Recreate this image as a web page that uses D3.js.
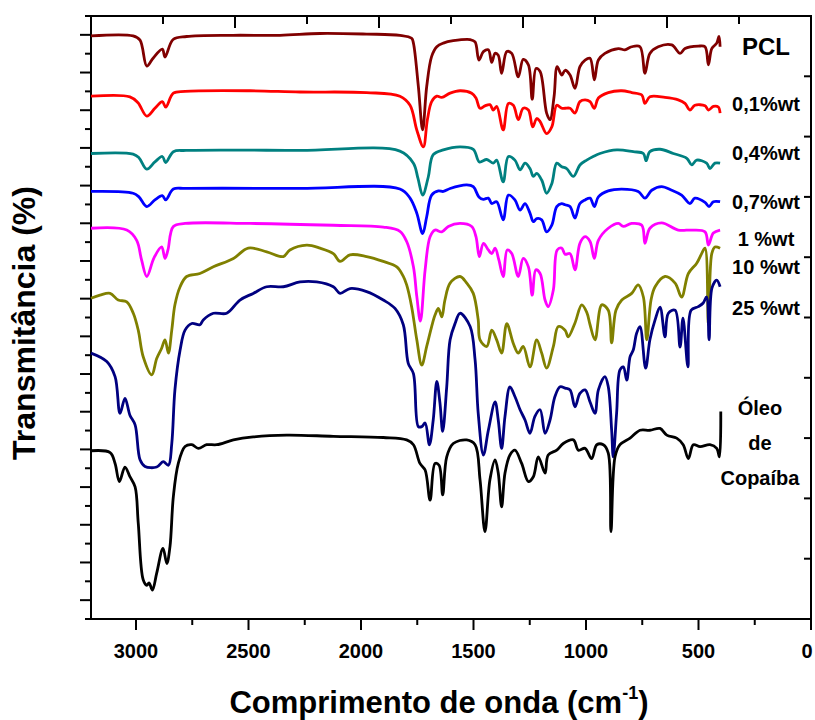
<!DOCTYPE html>
<meta charset="utf-8">
<script src="https://d3js.org/d3.v7.min.js"></script>
<style>
  body { margin: 0; background: #fff; }
  text { font-family: "Liberation Sans", Arial, sans-serif; font-weight: bold; fill: #000; }
</style>
<div id="ftir"></div>
<script>
// spectra: [wavenumber (cm-1), transmittance (a.u., offset)]
var pcl = [[3200,96.7],[3013,96.7],[2982,96.0],[2952,91.7],[2924,93.0],[2883,94.5],[2871,93.2],[2835,96.1],[2775,96.6],[2569,96.8],[2360,96.8],[2182,97.1],[1975,97.0],[1827,96.8],[1775,96.3],[1767,95.5],[1745,88.3],[1726,81.1],[1708,88.3],[1686,93.3],[1663,94.9],[1634,95.5],[1590,95.9],[1515,96.1],[1493,95.7],[1476,92.7],[1456,94.1],[1434,94.4],[1419,92.3],[1404,93.8],[1390,93.5],[1375,90.5],[1352,94.1],[1330,93.8],[1301,89.9],[1279,92.8],[1256,91.9],[1239,86.2],[1222,91.3],[1204,90.8],[1175,83.9],[1160,82.8],[1142,86.6],[1128,91.6],[1108,90.2],[1093,91.0],[1071,90.2],[1049,88.0],[1027,91.6],[1004,92.7],[982,93.0],[963,89.4],[945,92.7],[916,93.8],[856,94.6],[827,94.4],[797,94.9],[760,94.9],[738,90.5],[716,93.8],[679,94.9],[619,95.2],[582,93.8],[560,94.6],[501,95.0],[471,94.9],[456,91.9],[441,94.6],[419,95.5],[409,96.6],[404,94.9]];
var wt01 = [[3200,86.7],[3027,86.6],[2991,85.6],[2952,83.4],[2916,84.7],[2883,85.8],[2868,84.9],[2834,87.2],[2782,87.5],[2493,87.6],[2271,87.4],[1975,87.3],[1827,86.7],[1782,85.2],[1752,81.1],[1723,78.3],[1705,82.8],[1686,85.8],[1663,86.7],[1641,86.5],[1604,87.2],[1560,87.6],[1508,87.2],[1489,86.4],[1471,84.7],[1449,85.1],[1427,85.3],[1412,84.4],[1397,85.0],[1368,81.1],[1345,85.5],[1323,85.2],[1301,82.8],[1279,84.7],[1256,84.4],[1237,81.6],[1219,83.0],[1204,82.5],[1175,80.5],[1152,81.6],[1130,85.2],[1108,84.7],[1093,84.7],[1071,84.7],[1049,83.9],[1027,85.8],[1004,86.1],[982,85.8],[963,84.7],[945,86.4],[901,87.3],[841,87.6],[797,87.3],[752,86.9],[738,85.5],[716,86.6],[649,86.5],[590,86.1],[560,85.5],[538,84.4],[516,85.2],[471,85.1],[456,84.4],[434,85.0],[412,84.9],[404,83.9]];
var wt04 = [[3200,77.2],[3013,77.1],[2987,76.5],[2952,74.6],[2916,75.8],[2883,76.7],[2868,75.7],[2834,77.5],[2778,77.7],[2271,77.7],[1827,77.6],[1767,75.6],[1747,73.1],[1726,70.3],[1701,73.3],[1679,77.0],[1634,77.8],[1560,78.3],[1501,77.9],[1474,75.8],[1441,76.2],[1412,75.6],[1397,76.1],[1368,72.5],[1345,76.7],[1316,76.1],[1293,74.5],[1271,75.6],[1249,74.7],[1234,73.4],[1219,73.9],[1197,72.8],[1175,70.6],[1152,72.2],[1130,75.6],[1108,75.0],[1086,74.7],[1056,73.4],[1027,75.3],[997,76.1],[968,76.7],[938,77.2],[863,77.8],[790,77.5],[745,77.2],[733,76.0],[716,77.5],[671,77.9],[612,77.2],[552,76.4],[530,75.3],[508,76.1],[464,75.6],[449,74.7],[427,75.6],[404,75.6]];
var wt07 = [[3200,70.9],[3013,70.6],[2987,70.0],[2952,68.4],[2916,69.5],[2883,70.2],[2868,69.5],[2834,71.3],[2778,71.4],[2271,71.4],[1827,71.3],[1782,69.8],[1752,67.3],[1726,63.9],[1708,66.7],[1686,70.3],[1656,71.0],[1634,70.9],[1604,71.4],[1530,72.0],[1501,71.7],[1476,70.0],[1456,69.6],[1434,69.8],[1419,68.9],[1397,69.2],[1368,66.2],[1345,70.3],[1316,69.5],[1293,67.8],[1271,68.9],[1249,67.3],[1234,65.9],[1219,66.4],[1197,66.2],[1175,64.2],[1152,65.3],[1130,68.4],[1108,68.9],[1093,68.7],[1071,68.4],[1049,66.5],[1027,68.9],[1004,69.5],[982,69.8],[963,68.4],[945,70.0],[901,71.0],[841,71.3],[768,70.9],[738,69.8],[708,71.1],[664,71.7],[619,71.1],[575,70.3],[538,68.9],[516,69.8],[471,69.1],[453,68.4],[434,69.2],[404,69.2]];
var wt1 = [[3200,64.8],[3041,64.5],[2997,62.8],[2975,59.5],[2952,56.8],[2920,59.9],[2886,61.7],[2871,59.8],[2858,61.2],[2834,65.1],[2782,65.6],[2493,65.6],[2123,65.3],[1901,65.0],[1827,64.3],[1797,62.6],[1767,58.4],[1752,53.5],[1736,49.4],[1715,57.9],[1693,63.4],[1671,64.5],[1641,64.2],[1612,65.1],[1560,65.6],[1508,65.1],[1489,63.4],[1474,60.1],[1456,62.3],[1434,61.2],[1419,60.6],[1404,61.5],[1387,59.5],[1368,56.8],[1350,61.2],[1330,60.6],[1301,56.8],[1279,59.8],[1256,58.4],[1239,53.7],[1223,57.9],[1204,57.3],[1182,52.9],[1168,51.8],[1145,54.6],[1128,61.2],[1108,61.5],[1093,60.5],[1071,60.6],[1049,57.9],[1027,62.3],[1004,63.4],[982,62.6],[963,59.8],[945,62.8],[901,64.8],[856,65.6],[834,65.1],[797,65.6],[752,65.3],[738,62.3],[716,64.8],[664,65.7],[590,64.5],[530,64.5],[471,64.2],[456,62.0],[434,64.0],[404,64.5]];
var wt10 = [[3200,53.2],[3160,53.7],[3115,54.0],[3079,52.9],[3041,52.6],[3012,50.7],[2990,47.9],[2968,43.5],[2930,40.5],[2908,43.2],[2886,44.9],[2871,46.3],[2856,44.1],[2841,47.9],[2827,52.1],[2804,55.1],[2775,56.8],[2716,57.3],[2656,58.4],[2567,59.8],[2501,61.5],[2419,60.9],[2345,60.1],[2316,61.2],[2241,62.0],[2182,61.5],[2123,60.6],[2093,59.3],[2049,60.4],[1975,60.1],[1901,59.3],[1841,58.4],[1813,56.9],[1797,55.4],[1775,51.8],[1752,46.3],[1730,42.1],[1708,45.2],[1686,48.5],[1671,50.4],[1656,51.5],[1641,50.1],[1627,52.9],[1604,55.7],[1560,56.8],[1530,55.7],[1501,54.0],[1479,49.6],[1471,46.3],[1441,45.2],[1419,47.9],[1397,46.3],[1375,44.1],[1352,49.0],[1323,45.7],[1301,44.1],[1279,45.2],[1249,41.8],[1219,46.3],[1197,44.1],[1175,41.6],[1145,45.2],[1123,48.5],[1093,47.9],[1079,46.8],[1049,49.1],[1019,52.1],[997,50.9],[982,48.8],[960,46.3],[930,52.1],[901,51.2],[886,45.8],[867,51.2],[841,52.9],[797,54.0],[768,55.4],[745,53.4],[730,46.3],[711,52.9],[693,55.1],[649,56.8],[604,55.7],[575,53.4],[545,57.3],[508,59.0],[486,60.6],[471,61.5],[456,48.8],[441,60.6],[427,61.7],[404,61.5]];
var wt25 = [[3200,44.1],[3130,42.7],[3093,40.2],[3071,34.1],[3049,36.6],[3027,33.8],[3004,32.2],[2982,26.4],[2960,25.3],[2908,25.2],[2879,26.1],[2856,25.5],[2841,29.1],[2827,38.0],[2804,44.6],[2782,47.9],[2752,49.0],[2716,48.8],[2701,49.6],[2656,50.7],[2597,50.7],[2538,52.9],[2479,54.0],[2419,55.1],[2345,55.1],[2271,55.9],[2197,55.9],[2123,55.1],[2093,54.0],[2049,54.8],[1975,54.3],[1901,52.9],[1849,51.5],[1812,48.8],[1790,42.4],[1767,40.7],[1745,31.9],[1730,31.9],[1715,32.5],[1696,28.9],[1679,33.0],[1663,39.4],[1649,35.8],[1637,31.1],[1619,38.5],[1604,46.3],[1582,49.0],[1560,50.7],[1515,48.5],[1493,43.0],[1479,34.1],[1456,27.2],[1434,31.3],[1404,36.0],[1390,33.0],[1375,28.3],[1360,33.6],[1338,38.5],[1316,36.9],[1293,34.7],[1271,33.0],[1249,30.8],[1227,33.6],[1204,34.7],[1182,30.8],[1160,33.0],[1138,36.9],[1115,38.5],[1093,38.3],[1071,38.0],[1049,35.2],[1027,37.4],[1004,38.0],[982,36.0],[960,34.1],[945,38.0],[916,40.2],[901,38.5],[886,31.3],[879,26.9],[864,34.1],[849,41.3],[834,41.8],[819,39.6],[804,43.5],[790,44.6],[775,47.4],[760,48.5],[735,41.6],[716,46.3],[693,49.6],[671,51.7],[649,46.8],[634,50.7],[604,51.2],[582,45.1],[569,49.9],[547,41.8],[533,51.2],[501,51.8],[479,52.4],[464,53.4],[453,46.3],[440,54.9],[419,56.2],[404,55.1]];
var oleo = [[3200,27.9],[3115,27.6],[3093,25.8],[3074,22.8],[3049,25.2],[3027,23.6],[3004,21.9],[2990,15.9],[2968,6.5],[2952,5.6],[2942,6.0],[2927,4.8],[2908,7.6],[2880,11.7],[2863,9.2],[2849,12.0],[2834,20.3],[2812,25.8],[2782,28.6],[2752,28.9],[2723,28.3],[2686,28.9],[2641,28.9],[2567,29.7],[2479,30.2],[2330,30.5],[2123,30.3],[1901,30.1],[1797,29.7],[1767,28.9],[1738,25.8],[1715,24.7],[1693,19.7],[1671,25.8],[1653,25.5],[1637,20.6],[1619,26.9],[1590,29.1],[1530,29.7],[1493,28.9],[1471,23.1],[1449,14.5],[1427,23.1],[1404,26.4],[1390,24.2],[1375,18.6],[1360,24.2],[1338,27.2],[1316,28.0],[1286,25.8],[1256,22.8],[1234,23.6],[1212,26.9],[1182,24.2],[1168,27.2],[1130,28.0],[1101,29.1],[1056,29.7],[1034,28.0],[1004,28.3],[975,26.6],[952,28.9],[923,28.9],[901,27.5],[889,14.5],[871,26.9],[849,28.9],[804,30.0],[760,31.3],[716,31.3],[671,31.6],[641,30.5],[597,30.0],[568,28.9],[545,26.6],[523,28.9],[493,28.6],[449,28.9],[419,28.3],[407,26.9],[401,34.4]];

var seriesData = [pcl, wt01, wt04, wt07, wt1, wt10, wt25, oleo];
var seriesColors = ["#800000", "#ff0000", "#008080", "#0000ff", "#ff00ff", "#808000", "#000080", "#000000"];

// curve labels: [text, wavenumber, transmittance]
var labelText = ["PCL", "0,1%wt", "0,4%wt", "0,7%wt", "1 %wt", "10 %wt", "25 %wt", "Óleo", "de", "Copaíba"];
var labelWn = [200, 200, 200, 200, 200, 200, 200, 227, 227, 227];
var labelVal = [94.9, 85.4, 77.3, 69.2, 63.1, 58.4, 51.5, 35.0, 29.2, 23.4];

var xTicks = d3.range(0, 3001, 250);
var xLabels = d3.range(0, 3001, 500);

var margin = {top: 16, right: 4, bottom: 101, left: 91},
    width = 720, height = 603;

var svg = d3.select("#ftir").append("svg")
    .attr("width", 815).attr("height", 720)
  .append("g")
    .attr("transform", "translate(" + margin.left + "," + margin.top + ")");

var x = d3.scaleLinear().domain([3200, 0]).range([0, width]);
var y = d3.scaleLinear().domain([0, 100]).range([height, 0]);

// bottom axis, ticks outward
svg.append("g").selectAll("line").data(xTicks).enter().append("line")
    .attr("x1", function(d){ return x(d) }).attr("x2", function(d){ return x(d) })
    .attr("y1", height).attr("y2", function(d){ return height + (d % 500 === 0 ? 11 : 6) })
    .attr("stroke", "#000").attr("stroke-width", 2);
// the "0" label is nudged in so it stays inside the window
svg.append("g").selectAll("text").data(xLabels).enter().append("text")
    .attr("x", function(d){ return d === 0 ? x(d) - 4 : x(d) }).attr("y", height + 39)
    .attr("text-anchor", "middle").style("font-size", "20px")
    .text(function(d){ return d });

// top axis (unlabelled), ticks inward
var xTop = d3.scaleLinear().domain([0, 10]).range([0, width]);
svg.append("g").selectAll("line").data(d3.range(1, 10)).enter().append("line")
    .attr("x1", function(d){ return xTop(d) }).attr("x2", function(d){ return xTop(d) })
    .attr("y1", 0).attr("y2", function(d){ return d % 2 === 0 ? 12 : 8 })
    .attr("stroke", "#000").attr("stroke-width", 2);

// left axis, ticks outward
var yTicks = d3.range(0, 33).map(function(k){ return k * 100 / 32 });
svg.append("g").selectAll("line").data(yTicks).enter().append("line")
    .attr("y1", function(d){ return y(d) }).attr("y2", function(d){ return y(d) })
    .attr("x1", 0).attr("x2", function(d, i){ return i % 2 === 1 ? -11 : -6 })
    .attr("stroke", "#000").attr("stroke-width", 2);

// right axis, ticks inward
var yRight = d3.scaleLinear().domain([0, 10]).range([height, 0]);
svg.append("g").selectAll("line").data(d3.range(1, 10)).enter().append("line")
    .attr("y1", function(d){ return yRight(d) }).attr("y2", function(d){ return yRight(d) })
    .attr("x1", width).attr("x2", width - 7)
    .attr("stroke", "#000").attr("stroke-width", 2);

// frame
svg.append("rect").attr("width", width).attr("height", height)
    .attr("fill", "none").attr("stroke", "#000").attr("stroke-width", 2);

// spectra
var line = d3.line()
    .x(function(d){ return x(d[0]) })
    .y(function(d){ return y(d[1]) })
    .curve(d3.curveCatmullRom.alpha(0.5));

svg.selectAll(".spec").data(seriesData).enter().append("path")
    .attr("class", "spec")
    .attr("d", line)
    .attr("fill", "none")
    .attr("stroke", function(d, i){ return seriesColors[i] })
    .attr("stroke-width", 2.8)
    .attr("stroke-linejoin", "round");

// curve labels
svg.selectAll(".lab").data(labelText).enter().append("text")
    .attr("class", "lab")
    .attr("x", function(d, i){ return x(labelWn[i]) })
    .attr("y", function(d, i){ return y(labelVal[i]) })
    .attr("dy", "0.35em")
    .attr("text-anchor", "middle")
    .style("font-size", function(d, i){ return i === 0 ? "24px" : "20px" })
    .text(function(d){ return d });

// axis titles
svg.append("text")
    .attr("transform", "translate(" + (35 - margin.left) + "," + (323 - margin.top) + ") rotate(-90)")
    .attr("text-anchor", "middle").style("font-size", "32px")
    .text("Transmitância (%)");

var xt = svg.append("text")
    .attr("x", 439 - margin.left).attr("y", 713 - margin.top)
    .attr("text-anchor", "middle").style("font-size", "31px");
xt.append("tspan").text("Comprimento de onda (cm");
xt.append("tspan").attr("dy", -14).style("font-size", "18px").text("-1");
xt.append("tspan").attr("dy", 14).text(")");
</script>
